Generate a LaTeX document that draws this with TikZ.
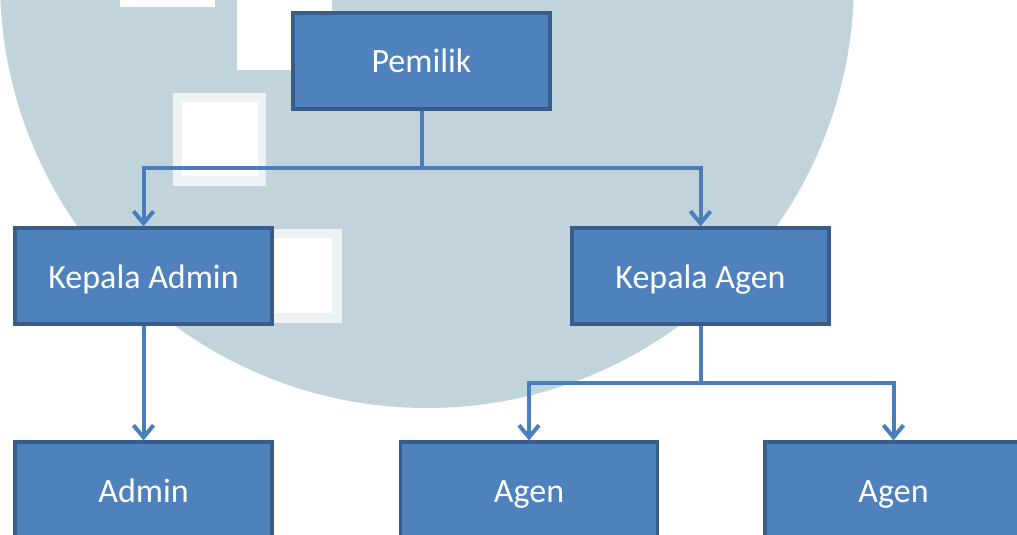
\documentclass[tikz,border=0pt]{standalone}
\usepackage{fontspec}
\setmainfont{Carlito}
\usetikzlibrary{arrows.meta}
\definecolor{boxfill}{HTML}{4F81BD}
\definecolor{boxline}{HTML}{385D8A}
\definecolor{conn}{HTML}{4A7EBB}
\definecolor{wm}{HTML}{C2D4DB}
\tikzset{
  orgbox/.style={draw=boxline, line width=3.2pt, fill=boxfill, text=white,
    minimum width=257pt, minimum height=96pt, inner sep=0pt,
    text height=28pt, text depth=4pt,
    font=\fontsize{34}{40}\selectfont},
  arr/.style={draw=conn, line width=4pt, -{Straight Barb[length=12pt,width=20pt,line width=4pt]}},
  wmsq/.style={fill=white}
}
\begin{document}
\begin{tikzpicture}[x=1pt,y=-1pt]
\useasboundingbox (0,0) rectangle (1017,535);
\clip (0,0) rectangle (1017,535);
% watermark
\fill[wm] (427,-19) circle (427);
\fill[wmsq] (120,0) rectangle (215,7);
\fill[wmsq] (237,0) rectangle (332,70);
\fill[white!70!wm] (173,93) rectangle (266,186);
\fill[wmsq] (182,102) rectangle (258,176);
\fill[white!70!wm] (273,229) rectangle (342,323);
\fill[wmsq] (273,238) rectangle (332,313);
% boxes
\node[orgbox] (pem) at (421.5,61) {Pemilik};
\node[orgbox] (kad) at (143.5,276) {Kepala Admin};
\node[orgbox] (kag) at (700.5,276) {Kepala Agen};
\node[orgbox] (adm) at (143.5,490) {Admin};
\node[orgbox] (ag1) at (529,490) {Agen};
\node[orgbox] (ag2) at (893.5,490) {Agen};
% connectors
\draw[arr] (pem.south) -- ++(0,57) -| (kad.north);
\draw[arr] (pem.south) -- ++(0,57) -| (kag.north);
\draw[arr] (kad.south) -- (adm.north);
\draw[arr] (kag.south) -- ++(0,57) -| (ag1.north);
\draw[arr] (kag.south) -- ++(0,57) -| (ag2.north);
\end{tikzpicture}
\end{document}
